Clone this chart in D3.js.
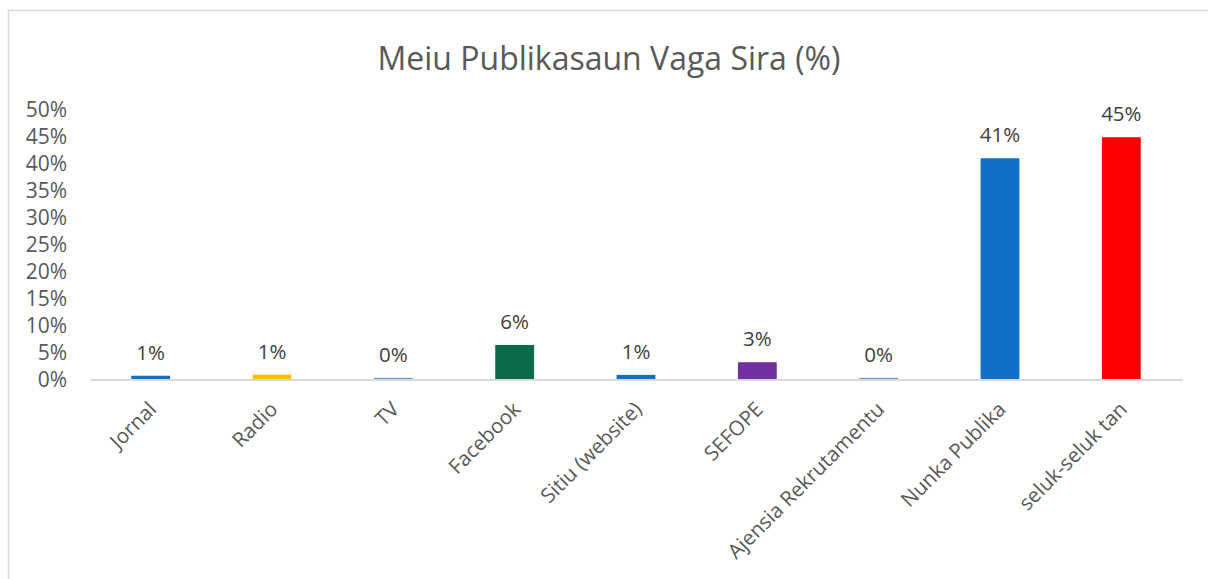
<!DOCTYPE html>
<html>
<head>
<meta charset="utf-8">
<script src="https://cdn.jsdelivr.net/npm/d3@7"></script>
<style>
    body { margin: 0; background: #fff; }
    text { font-family: "Open Sans", sans-serif; }
</style>
</head>
<body>
<svg id="chart" width="1208" height="579"></svg>
<script>
// data
var categories = ['Jornal', 'Radio', 'TV', 'Facebook', 'Sitiu (website)', 'SEFOPE',
    'Ajensia Rekrutamentu', 'Nunka Publika', 'seluk-seluk tan'];
var values = [0.7, 0.9, 0.3, 6.4, 0.85, 3.2, 0.3, 41, 44.9];
var labels = ['1%', '1%', '0%', '6%', '1%', '3%', '0%', '41%', '45%'];
var colors = ['#0f6fc6', '#ffc000', '#5fa0da', '#0b6b4c', '#0f6fc6', '#7030a0',
    '#5fa0da', '#0f6fc6', '#ff0000'];
var y_ticks = [0, 5, 10, 15, 20, 25, 30, 35, 40, 45, 50];
var title = 'Meiu Publikasaun Vaga Sira (%)';

var svg = d3.select('#chart');
// plot area (window.top is reserved, so no plain "top")
var plot_left = 90, plot_right = 1182, plot_bottom = 379.5, plot_top = 109.7;

// outer frame of the chart
svg.append('rect')
    .attr('x', 8.5).attr('y', 10.5)
    .attr('width', 1220).attr('height', 600)
    .attr('fill', 'none')
    .attr('stroke', '#d9d9d9')
    .attr('stroke-width', 1.5);

var x = d3.scaleBand()
    .domain(categories)
    .range([plot_left, plot_right])
    .paddingInner(0.68)
    .paddingOuter(0.34);

var y = d3.scaleLinear()
    .domain([0, 50])
    .range([plot_bottom, plot_top]);

svg.append('text')
    .attr('x', 609)
    .attr('y', 70)
    .attr('text-anchor', 'middle')
    .attr('font-size', 32)
    .attr('fill', '#595959')
    .text(title);

// y axis, labels only
var y_axis = svg.append('g')
    .attr('transform', 'translate(' + 67 + ',0)')
    .call(d3.axisLeft(y).tickValues(y_ticks).tickSize(0).tickPadding(0)
        .tickFormat(function(d) { return d + '%'; }));
y_axis.select('.domain').remove();
y_axis.selectAll('text')
    .attr('font-size', 21)
    .attr('font-family', '"Open Sans", sans-serif')
    .attr('fill', '#595959');

// bars
svg.selectAll('.bar')
    .data(values)
    .enter()
    .append('rect')
    .attr('class', 'bar')
    .attr('x', function(d, i) { return x(categories[i]); })
    .attr('width', x.bandwidth())
    .attr('y', function(d) { return y(d); })
    .attr('height', function(d) { return y(0) - y(d); })
    .attr('fill', function(d, i) { return colors[i]; });

// x axis line + rotated labels
var x_axis = svg.append('g')
    .attr('transform', 'translate(0,' + plot_bottom + ')')
    .call(d3.axisBottom(x).tickSize(0).tickPadding(0));
x_axis.select('.domain')
    .attr('stroke', '#d9d9d9')
    .attr('stroke-width', 2);
x_axis.selectAll('text')
    .attr('font-size', 20.5)
    .attr('font-family', '"Open Sans", sans-serif')
    .attr('fill', '#595959')
    .attr('text-anchor', 'end')
    .attr('dy', '0.35em')
    .attr('transform', 'translate(2,26) rotate(-45)');

// value labels above bars
svg.selectAll('.val')
    .data(values)
    .enter()
    .append('text')
    .attr('class', 'val')
    .attr('x', function(d, i) { return x(categories[i]) + x.bandwidth() / 2; })
    .attr('y', function(d) { return y(d) - 16; })
    .attr('text-anchor', 'middle')
    .attr('font-size', 20.5)
    .attr('fill', '#404040')
    .text(function(d, i) { return labels[i]; });
</script>
</body>
</html>
